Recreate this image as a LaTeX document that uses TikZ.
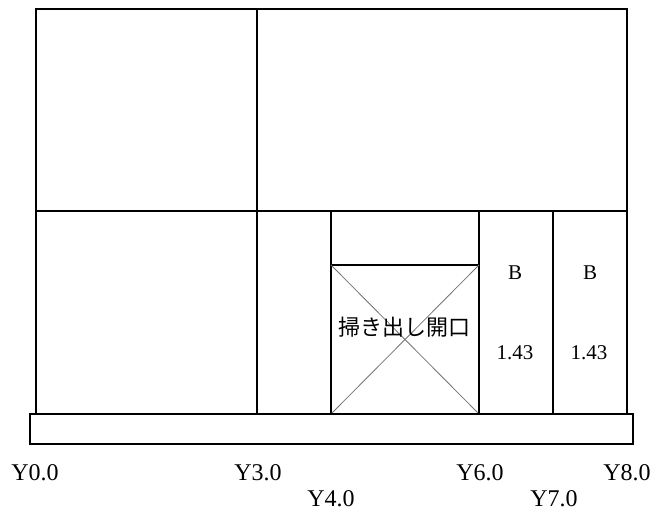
\documentclass[tikz,border=0pt]{standalone}
\usepackage{fontspec}
\setmainfont{Liberation Serif}
\newfontfamily\cjk{Noto Sans CJK JP}
\tikzset{
  wall/.style={draw=black,line width=1.4pt},
  crossline/.style={draw=black!55,line width=0.8pt},
  lab/.style={font=\fontsize{21pt}{22pt}\selectfont,inner sep=0pt,anchor=center},
  ylab/.style={font=\fontsize{24pt}{26pt}\selectfont,inner sep=0pt,anchor=center},
  jplab/.style={font=\cjk\fontsize{22pt}{24pt}\selectfont,inner sep=0pt,anchor=center},
}
\begin{document}
\begin{tikzpicture}[x=1pt,y=-1pt]
\useasboundingbox (0,0) rectangle (654,513);
\draw[wall] (36,9) rectangle (627,414);
\draw[wall] (36,211) -- (627,211);
\draw[wall] (257,9) -- (257,414);
\draw[wall] (331,211) -- (331,414);
\draw[wall] (479,211) -- (479,414);
\draw[wall] (553,211) -- (553,414);
\draw[wall] (331,265) -- (479,265);
\draw[crossline] (331,265) -- (479,414);
\draw[crossline] (479,265) -- (331,414);
\draw[wall,fill=white] (30,414) rectangle (633,444);
\node[jplab] (t) at (404,327) {掃き出し開口};
\node[lab] (b1) at (515,272.5) {B};
\node[lab] (b2) at (590,272.5) {B};
\node[lab] (v1) at (515,352.5) {1.43};
\node[lab] (v2) at (589,352.5) {1.43};
\node[ylab] (y0) at (35,473) {Y0.0};
\node[ylab] (y3) at (258,473) {Y3.0};
\node[ylab] (y4) at (331,499) {Y4.0};
\node[ylab] (y6) at (480,473) {Y6.0};
\node[ylab] (y7) at (554,499) {Y7.0};
\node[ylab] (y8) at (627,473) {Y8.0};
\end{tikzpicture}
\end{document}
